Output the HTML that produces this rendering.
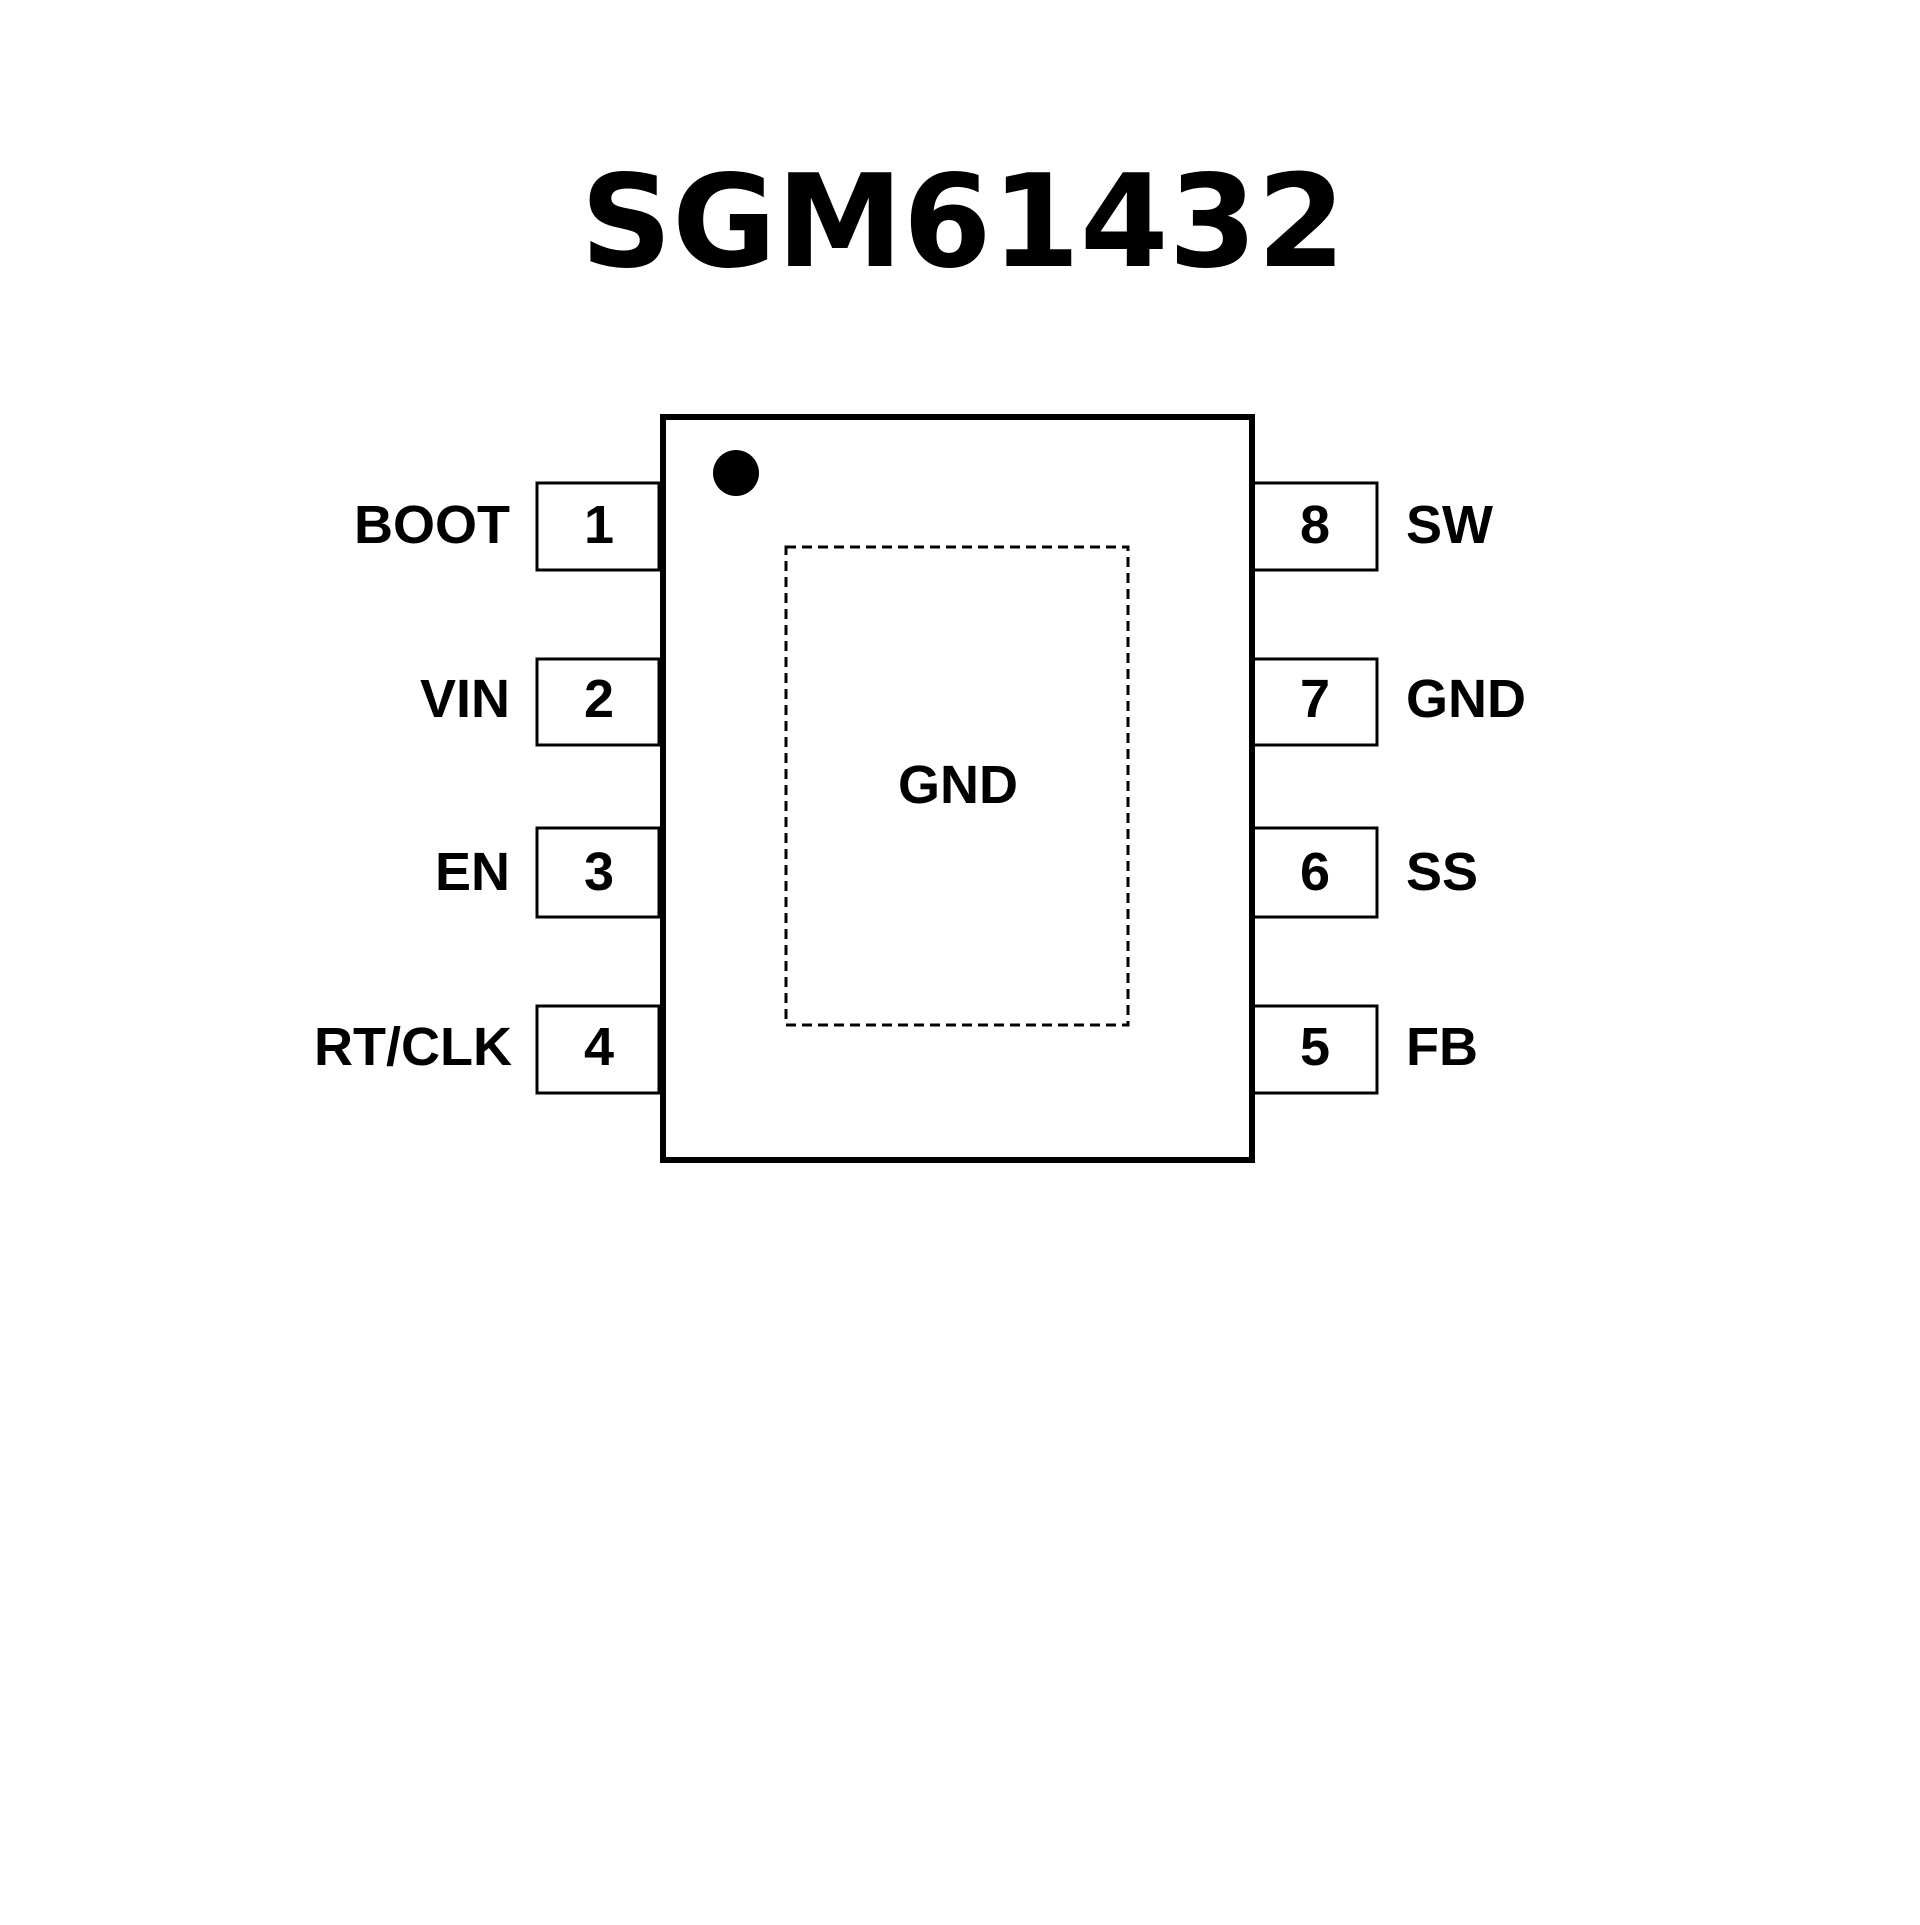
<!DOCTYPE html>
<html><head><meta charset="utf-8"><style>
html,body{margin:0;padding:0;background:#fff;}
</style></head><body>
<svg width="1920" height="1920" xmlns="http://www.w3.org/2000/svg">
<rect width="1920" height="1920" fill="#fff"/>
<text x="963" y="266" text-anchor="middle" font-family="DejaVu Sans, sans-serif" font-weight="bold" font-size="128" textLength="765" lengthAdjust="spacingAndGlyphs">SGM61432</text>
<g transform="translate(-8,-7)">
<g fill="#fff" stroke="#000" stroke-width="3">
<rect x="545" y="490" width="122" height="87"/>
<rect x="545" y="666" width="122" height="86"/>
<rect x="545" y="835" width="122" height="89"/>
<rect x="545" y="1013" width="122" height="87"/>
<rect x="1261" y="490" width="124" height="87"/>
<rect x="1261" y="666" width="124" height="86"/>
<rect x="1261" y="835" width="124" height="89"/>
<rect x="1261" y="1013" width="124" height="87"/>
</g>
<rect x="671" y="424" width="589" height="743" fill="#fff" stroke="#000" stroke-width="6"/>
<circle cx="744" cy="480" r="23" fill="#000"/>
<rect x="794" y="554" width="342" height="478" fill="none" stroke="#000" stroke-width="3" stroke-dasharray="10,6"/>
<g font-family="Liberation Sans, Arial, sans-serif" font-weight="bold" font-size="54">
<g text-anchor="middle">
<text x="607" y="550">1</text><text x="607" y="724">2</text><text x="607" y="897">3</text><text x="607" y="1072">4</text>
<text x="1323" y="550">8</text><text x="1323" y="724">7</text><text x="1323" y="897">6</text><text x="1323" y="1072">5</text>
<text x="966" y="810">GND</text>
</g>
<g text-anchor="end">
<text x="518" y="550">BOOT</text><text x="518" y="724">VIN</text><text x="518" y="897">EN</text><text x="520" y="1072">RT/CLK</text>
</g>
<text x="1414" y="550">SW</text><text x="1414" y="724">GND</text><text x="1414" y="897">SS</text><text x="1414" y="1072">FB</text>
</g>
</g>
</svg>
</body></html>
